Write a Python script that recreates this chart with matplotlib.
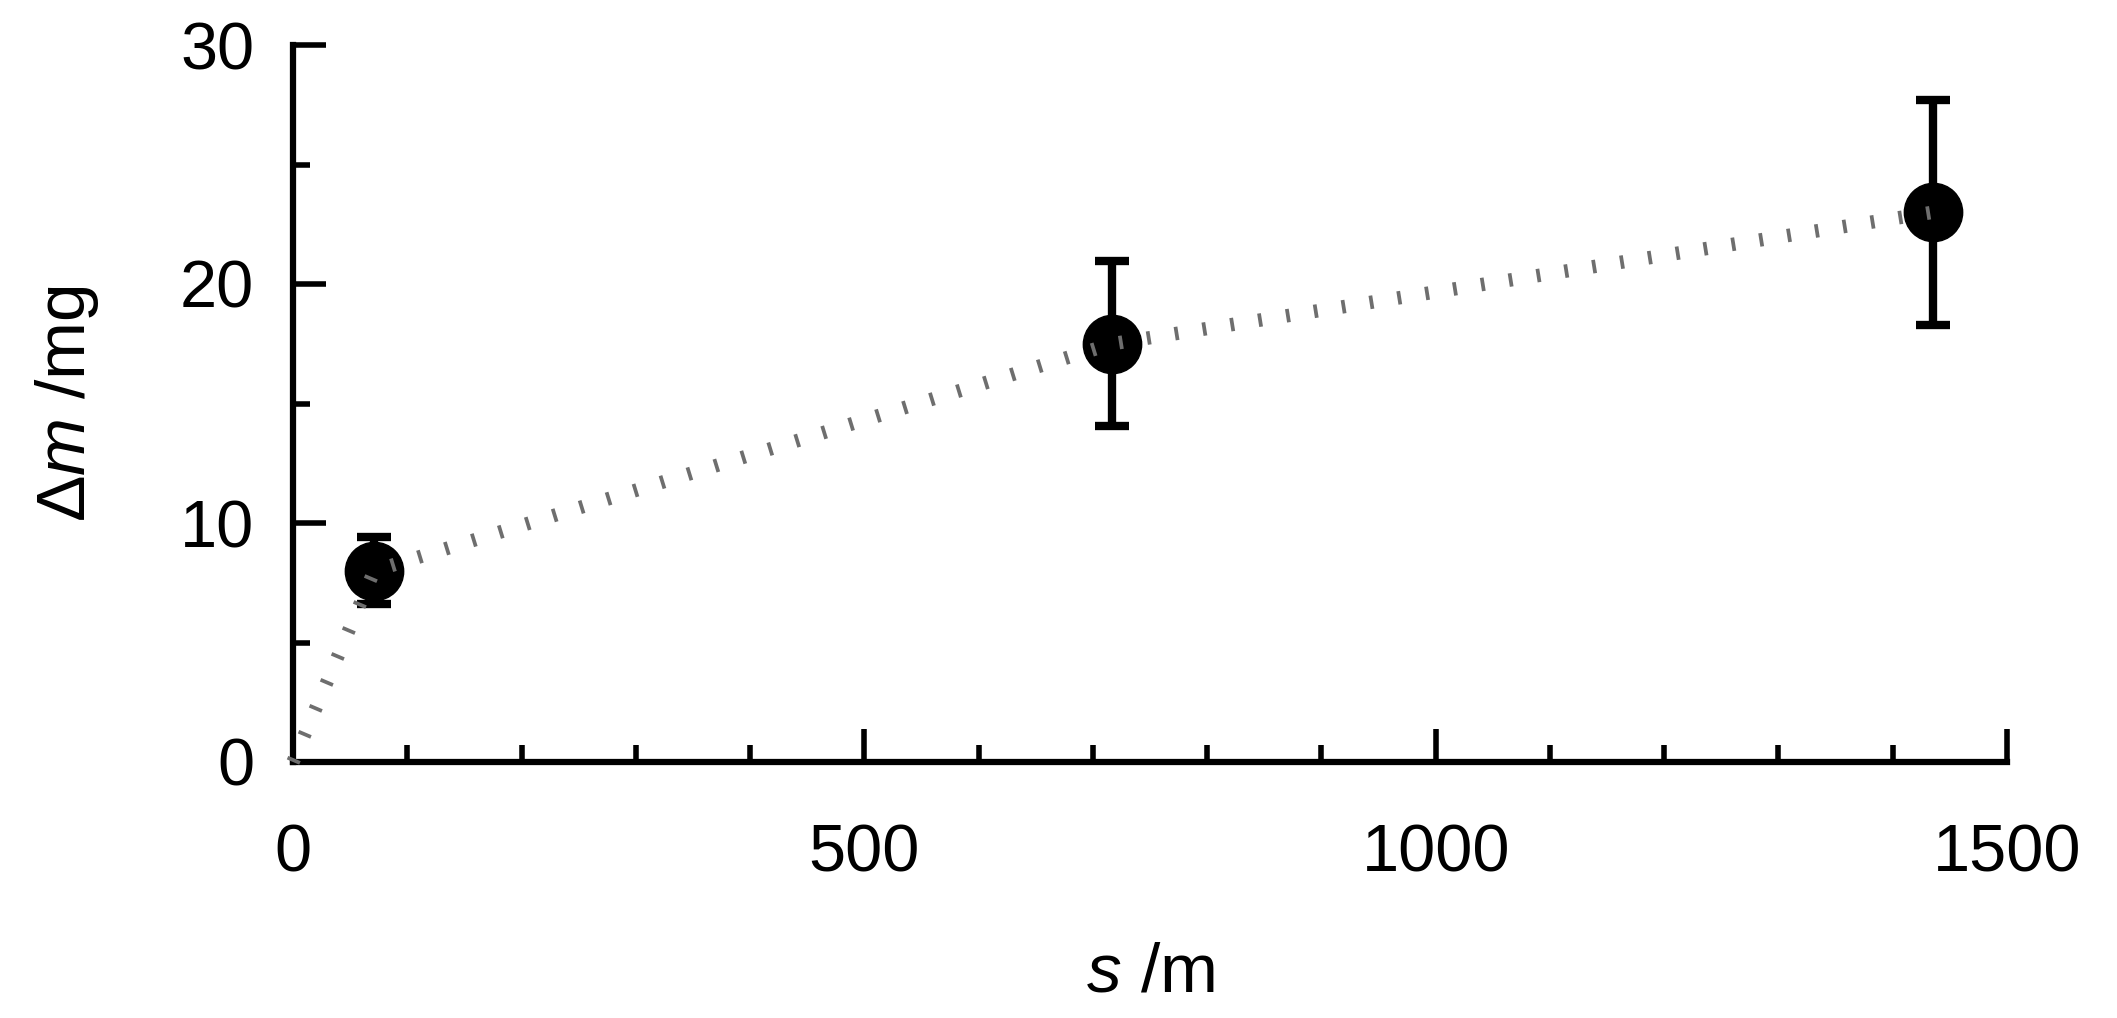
import matplotlib
matplotlib.use("Agg")
import matplotlib.pyplot as plt
from matplotlib.ticker import MultipleLocator

# data
s_m = [71, 717, 1435]
dm_mg = [8.0, 17.5, 23.0]
dm_err = [1.4, 3.45, 4.7]
line_s = [0, 71, 717, 1435]
line_dm = [0.0, 8.0, 17.5, 23.0]
xticks = [0, 500, 1000, 1500]
yticks = [0, 10, 20, 30]

plt.rcParams['font.family'] = ['Liberation Sans', 'DejaVu Sans']
plt.rcParams['mathtext.fontset'] = 'custom'
plt.rcParams['mathtext.rm'] = 'Liberation Sans'
plt.rcParams['mathtext.it'] = 'Liberation Sans:italic'
plt.rcParams['lines.scale_dashes'] = False

fig = plt.figure(figsize=(21.17, 10.18), dpi=100)
ax = fig.add_axes([293/2117, 1-762/1018, (2007-293)/2117, (762-45)/1018])

ax.errorbar(s_m, dm_mg, yerr=dm_err, fmt='o', color='black', ms=42,
            elinewidth=6, capsize=12, capthick=6, zorder=3, clip_on=False)
ax.plot(line_s, line_dm, color='#6e6e6e', lw=9.7, linestyle=(0, (2.7, 17.6)),
        dash_capstyle='butt', zorder=4, clip_on=False)

ax.set_xlim(0, 1500)
ax.set_ylim(0, 30)
ax.set_xticks(xticks)
ax.set_yticks(yticks)
ax.xaxis.set_minor_locator(MultipleLocator(100))
ax.yaxis.set_minor_locator(MultipleLocator(5))

for sp in ['top', 'right']:
    ax.spines[sp].set_visible(False)
for sp in ['left', 'bottom']:
    ax.spines[sp].set_linewidth(4.5)

ax.tick_params(which='major', direction='in', length=24, width=4, labelsize=48)
ax.tick_params(which='minor', direction='in', length=12, width=4)
ax.tick_params(axis='x', which='major', pad=44)
ax.tick_params(axis='y', which='major', pad=28)

ax.set_xlabel(r'$s$ /m', fontsize=50)
ax.set_ylabel(r'$\Delta m$ /mg', fontsize=50)
ax.xaxis.set_label_coords(0.5, -0.25)
ax.yaxis.set_label_coords(-0.112, 0.5)

fig.savefig('out.png', dpi=100)
